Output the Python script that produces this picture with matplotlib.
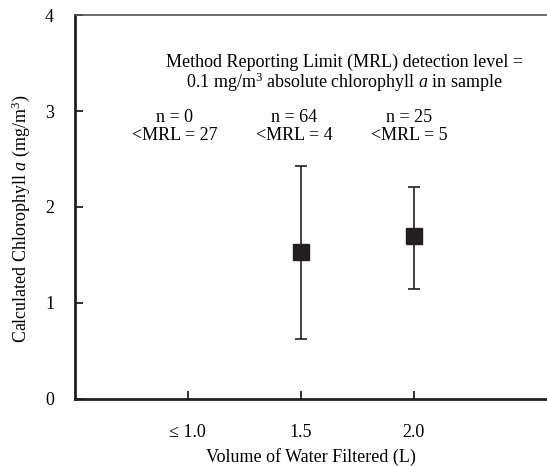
import matplotlib
matplotlib.use("Agg")
import matplotlib.pyplot as plt
import numpy as np

plt.rcParams['font.family'] = ['Liberation Serif', 'DejaVu Serif']
plt.rcParams['mathtext.fontset'] = 'custom'
plt.rcParams['mathtext.rm'] = 'Liberation Serif'
plt.rcParams['mathtext.it'] = 'Liberation Serif:italic'

categories = ["\u2264 1.0", "1.5", "2.0"]
means = [np.nan, 1.53, 1.70]
lower = [np.nan, 0.62, 1.15]
upper = [np.nan, 2.43, 2.21]
n_counts = [0, 64, 25]
below_mrl = [27, 4, 5]

fig = plt.figure(figsize=(5.47, 4.66), dpi=100)
ax = fig.add_axes([0.137, 0.1438, 0.863, 0.8240])

x = np.arange(1, len(categories) + 1)
m = np.array(means)
yerr = np.vstack([m - np.array(lower), np.array(upper) - m])
ax.errorbar(x, m, yerr=yerr, fmt='s', color='#231f20', ecolor='#231f20',
            markersize=11, elinewidth=1.2, capsize=4.5, capthick=1.2)

ax.set_xlim(0, 4.18)
ax.set_ylim(0, 4)
ax.set_xticks(x)
ax.set_xticklabels(categories)
ax.set_yticks([0, 1, 2, 3, 4])
ax.tick_params(direction='in', length=6, width=1.3, color='#231f20', labelsize=13)
ax.tick_params(axis='x', pad=18)
ax.tick_params(axis='y', pad=15)
ax.spines['right'].set_visible(False)
ax.spines['left'].set_linewidth(2)
ax.spines['bottom'].set_linewidth(2)
ax.spines['left'].set_color('#231f20')
ax.spines['bottom'].set_color('#231f20')
ax.spines['top'].set_linewidth(1.2)
ax.spines['top'].set_color('#555555')

ax.set_xlabel("Volume of Water Filtered (L)", fontsize=13, labelpad=5)
ax.set_ylabel(r"Calculated Chlorophyll $a$ (mg/m$^3$)", fontsize=13)
ax.yaxis.set_label_coords(-0.092, 0.47)

ax.text(0.57, 0.878, "Method Reporting Limit (MRL) detection level =",
        transform=ax.transAxes, ha='center', va='center', fontsize=13)
ax.text(0.57, 0.824, r"0.1 mg/m$^3$ absolute chlorophyll $a$ in sample",
        transform=ax.transAxes, ha='center', va='center', fontsize=13)

text_x = [0.88, 1.94, 2.96]
for tx, n, b in zip(text_x, n_counts, below_mrl):
    ax.text(tx, 2.93, f"n = {n}", ha='center', va='center', fontsize=13)
    ax.text(tx, 2.74, f"<MRL = {b}", ha='center', va='center', fontsize=13)

fig.savefig("out.png", dpi=100)
